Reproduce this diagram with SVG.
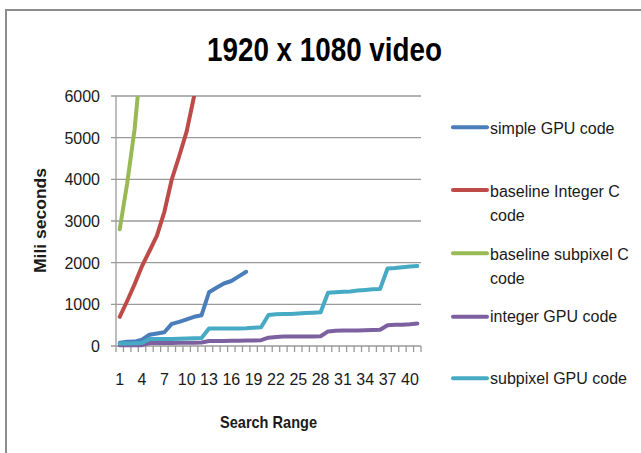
<svg xmlns="http://www.w3.org/2000/svg" width="641" height="453" viewBox="0 0 641 453">
<style>
text{font-family:"Liberation Sans",Arial,sans-serif;fill:#1a1a1a}
.grid{stroke:#9a9a9a;stroke-width:1.3;fill:none}
.ax{stroke:#9a9a9a;stroke-width:1.3;fill:none}
.tl{font-size:16px;text-anchor:end}
.xl{font-size:16px;text-anchor:middle}
.lg{font-size:16px}
.s{fill:none;stroke-width:4;stroke-linejoin:round;stroke-linecap:round}
.blue{stroke:#4a7ebb}.red{stroke:#be4b48}.green{stroke:#98b954}.purple{stroke:#7d60a0}.cyan{stroke:#46aac5}
</style>
<defs><clipPath id="plot"><rect x="116" y="96" width="305" height="252"/></clipPath></defs>
<rect x="6" y="10" width="700" height="500" fill="#fff" stroke="#8c8c8c" stroke-width="2"/>
<text x="324.5" y="61" font-size="33" font-weight="bold" text-anchor="middle" textLength="235" lengthAdjust="spacingAndGlyphs" style="fill:#000">1920 x 1080 video</text>
<g id="axes">
<path class="grid" d="M111 96H421M111 137.67H421M111 179.33H421M111 221H421M111 262.67H421M111 304.33H421"/>
<path class="ax" d="M116 96V346M111 346H421"/>
<path class="ax" d="M116 346v6M123.44 346v6M130.88 346v6M138.32 346v6M145.76 346v6M153.2 346v6M160.64 346v6M168.08 346v6M175.52 346v6M182.96 346v6M190.4 346v6M197.84 346v6M205.28 346v6M212.72 346v6M220.16 346v6M227.6 346v6M235.04 346v6M242.48 346v6M249.92 346v6M257.36 346v6M264.8 346v6M272.24 346v6M279.68 346v6M287.12 346v6M294.56 346v6M302 346v6M309.44 346v6M316.88 346v6M324.32 346v6M331.76 346v6M339.2 346v6M346.64 346v6M354.08 346v6M361.52 346v6M368.96 346v6M376.4 346v6M383.84 346v6M391.28 346v6M398.72 346v6M406.16 346v6M413.6 346v6M421 346v6"/>
<text class="tl" x="100" y="102">6000</text>
<text class="tl" x="100" y="143.7">5000</text>
<text class="tl" x="100" y="185.3">4000</text>
<text class="tl" x="100" y="227">3000</text>
<text class="tl" x="100" y="268.7">2000</text>
<text class="tl" x="100" y="310.3">1000</text>
<text class="tl" x="100" y="352">0</text>
<text class="xl" x="119.7" y="385">1</text>
<text class="xl" x="142" y="385">4</text>
<text class="xl" x="164.4" y="385">7</text>
<text class="xl" x="186.7" y="385">10</text>
<text class="xl" x="209" y="385">13</text>
<text class="xl" x="231.3" y="385">16</text>
<text class="xl" x="253.6" y="385">19</text>
<text class="xl" x="276" y="385">22</text>
<text class="xl" x="298.3" y="385">25</text>
<text class="xl" x="320.6" y="385">28</text>
<text class="xl" x="342.9" y="385">31</text>
<text class="xl" x="365.2" y="385">34</text>
<text class="xl" x="387.6" y="385">37</text>
<text class="xl" x="409.9" y="385">40</text>
<text x="268.5" y="428" font-size="17" font-weight="bold" text-anchor="middle" textLength="97" lengthAdjust="spacingAndGlyphs">Search Range</text>
<text transform="translate(46 220.5) rotate(-90)" font-size="17" font-weight="bold" text-anchor="middle" textLength="105" lengthAdjust="spacingAndGlyphs">Mili seconds</text>
</g>
<g id="series" clip-path="url(#plot)">
<polyline id="green" class="s green" points="119.72,229.3 127.16,183.5 134.6,129.3 142.04,50.2"/>
<polyline id="red" class="s red" points="119.72,316.8 127.16,301 134.6,284.3 142.04,266 149.48,251 156.92,235.6 164.36,211.8 171.8,179.3 179.24,156 186.68,131.4 194.12,96 201.56,54.3"/>
<polyline id="blue" class="s blue" points="119.72,342.7 127.16,341.8 134.6,341.6 142.04,339.75 149.48,334.75 156.92,333.5 164.36,332.25 171.8,323.9 179.24,321.8 186.68,319.3 194.12,316.8 201.56,315.2 209,292.25 216.44,287.7 223.88,283.5 231.32,281 238.76,276.4 246.2,271.8"/>
<polyline id="purple" class="s purple" points="119.72,345.2 127.16,345.2 134.6,345.2 142.04,345.2 149.48,343.1 156.92,343.1 164.36,342.9 171.8,342.9 179.24,342.7 186.68,342.7 194.12,342.7 201.56,342.5 209,341 216.44,341 223.88,341 231.32,340.8 238.76,340.8 246.2,340.6 253.64,340.4 261.08,340.2 268.52,337.7 275.96,337 283.4,336.6 290.84,336.4 298.28,336.4 305.72,336.4 313.16,336.4 320.6,336.2 328.04,331.4 335.48,330.8 342.92,330.6 350.36,330.4 357.8,330.4 365.24,330.2 372.68,330 380.12,329.75 387.56,325.2 395,324.75 402.44,324.75 409.88,324.3 417.32,323.5"/>
<polyline id="cyan" class="s cyan" points="119.72,343.5 127.16,343.5 134.6,343.3 142.04,342.9 149.48,338.9 156.92,338.9 164.36,338.9 171.8,338.9 179.24,338.7 186.68,338.5 194.12,338.3 201.56,338.1 209,328.5 216.44,328.5 223.88,328.5 231.32,328.5 238.76,328.5 246.2,328.3 253.64,327.7 261.08,327.25 268.52,315 275.96,314.3 283.4,314.1 290.84,313.9 298.28,313.5 305.72,313.1 313.16,312.7 320.6,312.25 328.04,292.7 335.48,292.25 342.92,291.8 350.36,291.4 357.8,290.6 365.24,290 372.68,289.3 380.12,288.9 387.56,268.5 395,268.1 402.44,267.25 409.88,266.4 417.32,266"/>
</g>
<g id="legend">
<g id="leg-simple"><line class="s blue" x1="453" y1="127.3" x2="487" y2="127.3" stroke-linecap="butt"/><text class="lg" x="490" y="133.5">simple GPU code</text></g>
<g id="leg-baseint"><line class="s red" x1="453" y1="190" x2="487" y2="190" stroke-linecap="butt"/><text class="lg" x="490" y="196.5">baseline Integer C</text><text class="lg" x="490" y="220.5">code</text></g>
<g id="leg-basesub"><line class="s green" x1="453" y1="253.3" x2="487" y2="253.3" stroke-linecap="butt"/><text class="lg" x="490" y="259.5">baseline subpixel C</text><text class="lg" x="490" y="283.5">code</text></g>
<g id="leg-intgpu"><line class="s purple" x1="453" y1="316.7" x2="487" y2="316.7" stroke-linecap="butt"/><text class="lg" x="490" y="322">integer GPU code</text></g>
<g id="leg-subgpu"><line class="s cyan" x1="453" y1="378.3" x2="487" y2="378.3" stroke-linecap="butt"/><text class="lg" x="490" y="384">subpixel GPU code</text></g>
</g>
</svg>
